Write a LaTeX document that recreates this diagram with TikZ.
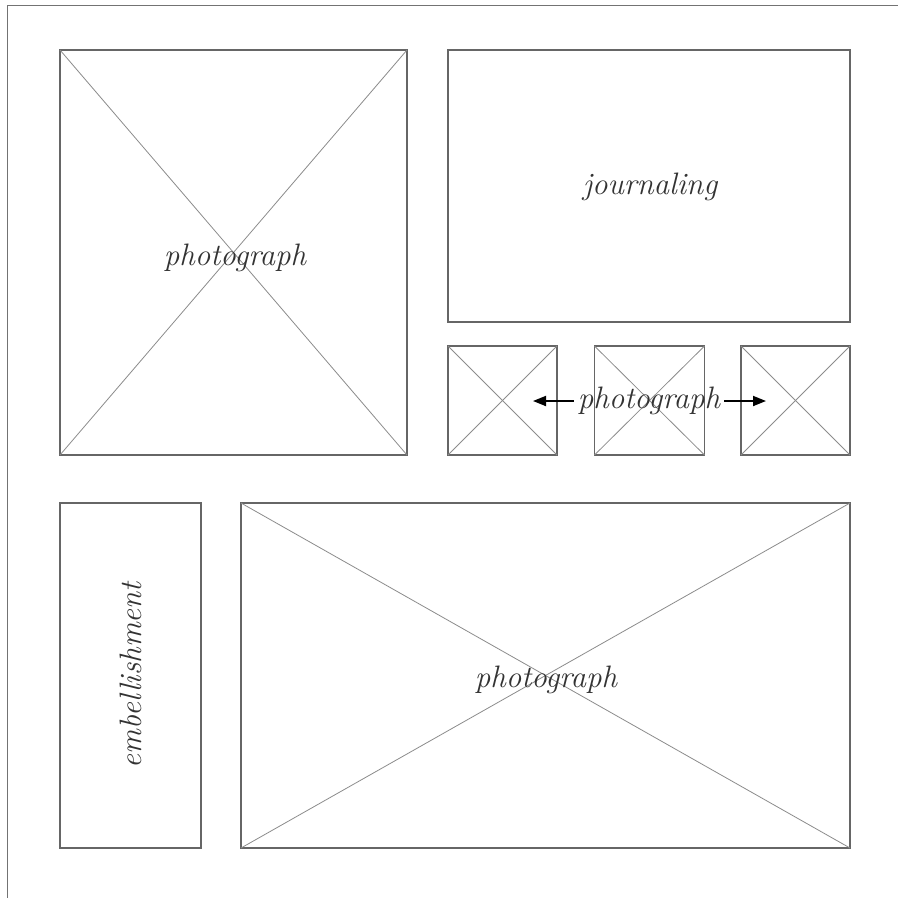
\documentclass[tikz,border=0pt]{standalone}
\usetikzlibrary{arrows.meta}
\begin{document}
\begin{tikzpicture}[x=1pt,y=-1pt,
  frame/.style={draw=black!60,line width=1.2pt,rectangle,inner sep=0pt,outer sep=0pt},
  diag/.style={draw=black!45,line width=0.8pt},
  lbl/.style={font=\fontsize{31}{34}\selectfont\itshape,text=black!80,inner sep=1pt},
  arr/.style={line width=1.8pt,-{Triangle[length=13pt,width=10pt]}}]
\useasboundingbox (0,0) rectangle (898,898);
\fill[white] (0,0) rectangle (898,898);
\draw[black!55,line width=1pt] (898,5.5) -- (7.5,5.5) -- (7.5,898);
% boxes
\node[frame,minimum width=347pt,minimum height=405pt] (p1) at (233.5,252.5) {};
\node[frame,minimum width=402pt,minimum height=272pt] (j) at (649,186) {};
\node[frame,minimum width=109pt,minimum height=109pt] (s1) at (502.5,400.5) {};
\node[frame,minimum width=110pt,minimum height=109pt] (s2) at (649.5,400.5) {};
\node[frame,minimum width=109pt,minimum height=109pt] (s3) at (795.5,400.5) {};
\node[frame,minimum width=141pt,minimum height=345pt] (e) at (130.5,675.5) {};
\node[frame,minimum width=609pt,minimum height=345pt] (p2) at (545.5,675.5) {};
% diagonals
\foreach \n in {p1,s1,s2,s3,p2}{
  \draw[diag] (\n.north west) -- (\n.south east);
  \draw[diag] (\n.north east) -- (\n.south west);
}
% labels
\node[lbl] (t1) at (235,258) {photograph};
\node[lbl] (tj) at (650,187) {journaling};
\node[lbl] (t3) at (546,680) {photograph};
\node[lbl,rotate=90] (te) at (131,675) {embellishment};
\node[lbl,inner sep=4pt] (ts) at (649,401) {photograph};
\coordinate (la) at (533,401);
\coordinate (ra) at (766,401);
\draw[arr] (ts.west) -- (la);
\draw[arr] (ts.east) -- (ra);
\end{tikzpicture}
\end{document}
